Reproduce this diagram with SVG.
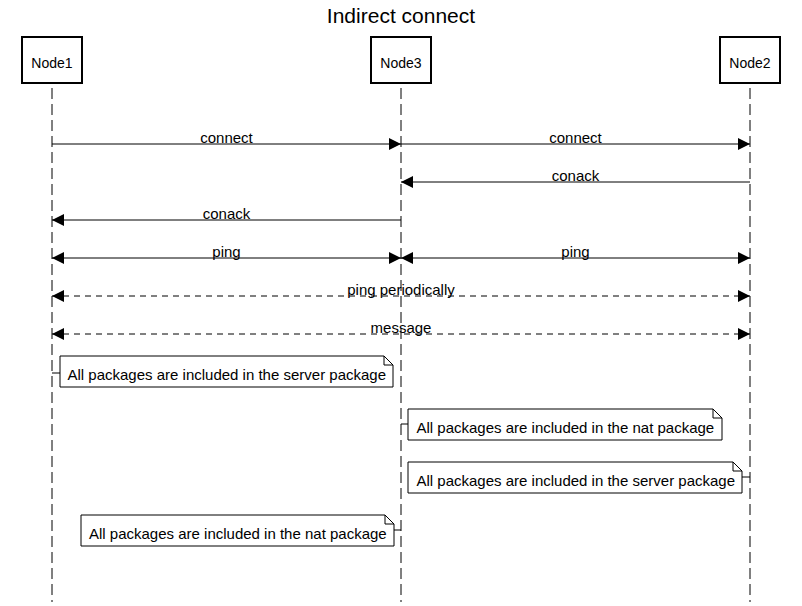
<svg xmlns="http://www.w3.org/2000/svg" width="802" height="606" viewBox="0 0 802 606">
<style>
text{font-family:"Liberation Sans",Arial,sans-serif;fill:#000}
.title{font-size:21px;text-anchor:middle}
.actor rect{fill:#fff;stroke:#000;stroke-width:2}
.actor text{font-size:14px;text-anchor:middle}
.life{stroke:#000;stroke-width:1;stroke-dasharray:11,5;fill:none}
.msg{stroke:#000;stroke-width:1;fill:none}
.dash{stroke-dasharray:6,5}
.lbl{font-size:15px;text-anchor:middle}
.note path{fill:#fff;stroke:#000;stroke-width:1}
.note text{font-size:15px}
.tick{stroke:#000;stroke-width:1;fill:none}
</style>
<defs>
<marker id="ah" viewBox="0 0 12 12" refX="12" refY="6" markerWidth="12" markerHeight="12" markerUnits="userSpaceOnUse" orient="auto-start-reverse">
<path d="M0,0 L12,6 L0,12 Z" fill="#000"/>
</marker>
</defs>
<rect width="802" height="606" fill="#fff"/>
<text class="title" x="401" y="23">Indirect connect</text>
<g id="lifelines">
<line class="life" x1="52" y1="88" x2="52" y2="602"/>
<line class="life" x1="401" y1="88" x2="401" y2="602"/>
<line class="life" x1="750" y1="88" x2="750" y2="602"/>
</g>
<g id="Node1" class="actor"><rect x="22" y="37" width="60" height="46"/><text x="52" y="68">Node1</text></g>
<g id="Node3" class="actor"><rect x="371" y="37" width="60" height="46"/><text x="401" y="68">Node3</text></g>
<g id="Node2" class="actor"><rect x="720" y="37" width="60" height="46"/><text x="750" y="68">Node2</text></g>
<g id="connectors">
<line class="msg" x1="52" y1="144" x2="401" y2="144" marker-end="url(#ah)"/>
<text class="lbl" x="226.5" y="143">connect</text>
<line class="msg" x1="401" y1="144" x2="750" y2="144" marker-end="url(#ah)"/>
<text class="lbl" x="575.5" y="143">connect</text>
<line class="msg" x1="750" y1="182" x2="401" y2="182" marker-end="url(#ah)"/>
<text class="lbl" x="575.5" y="181">conack</text>
<line class="msg" x1="401" y1="220" x2="52" y2="220" marker-end="url(#ah)"/>
<text class="lbl" x="226.5" y="219">conack</text>
<line class="msg" x1="52" y1="258" x2="401" y2="258" marker-start="url(#ah)" marker-end="url(#ah)"/>
<text class="lbl" x="226.5" y="257">ping</text>
<line class="msg" x1="401" y1="258" x2="750" y2="258" marker-start="url(#ah)" marker-end="url(#ah)"/>
<text class="lbl" x="575.5" y="257">ping</text>
<line class="msg dash" x1="52" y1="296" x2="750" y2="296" marker-start="url(#ah)" marker-end="url(#ah)"/>
<text class="lbl" x="401" y="295">ping periodically</text>
<line class="msg dash" x1="52" y1="334" x2="750" y2="334" marker-start="url(#ah)" marker-end="url(#ah)"/>
<text class="lbl" x="401" y="333">message</text>
<line class="tick" x1="52" y1="373" x2="60" y2="373"/>
<line class="tick" x1="401" y1="424" x2="408" y2="424"/>
<line class="tick" x1="742" y1="477" x2="750" y2="477"/>
<line class="tick" x1="394" y1="530" x2="401" y2="530"/>
</g>
<g id="note1" class="note">
<path d="M60,356 H384 L393,365 V387 H60 Z M384,356 V365 H393"/>
<text x="67.5" y="379.5">All packages are included in the server package</text>
</g>
<g id="note2" class="note">
<path d="M408,409 H713 L722,418 V440 H408 Z M713,409 V418 H722"/>
<text x="416.5" y="432.5">All packages are included in the nat package</text>
</g>
<g id="note3" class="note">
<path d="M408,462 H733 L742,471 V493 H408 Z M733,462 V471 H742"/>
<text x="416.5" y="485.5">All packages are included in the server package</text>
</g>
<g id="note4" class="note">
<path d="M81,515 H385 L394,524 V546 H81 Z M385,515 V524 H394"/>
<text x="89" y="538.5">All packages are included in the nat package</text>
</g>
</svg>
